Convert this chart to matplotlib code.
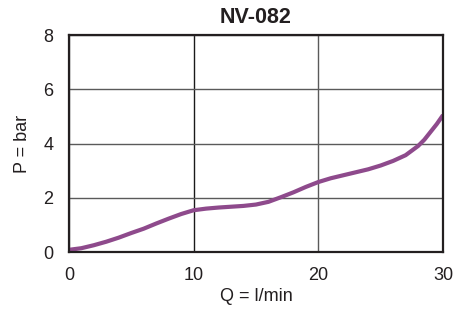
import matplotlib
matplotlib.use("Agg")
import matplotlib.pyplot as plt

plt.rcParams['font.family'] = ['Liberation Sans', 'DejaVu Sans']
plt.rcParams['text.color'] = '#231f20'
plt.rcParams['axes.labelcolor'] = '#231f20'

# Q (l/min) and P (bar)
flow = [0, 1, 2, 3, 4, 5, 6, 7, 8, 9, 10, 11, 12, 13, 14, 15, 16, 17, 18, 19, 20,
        21, 22, 23, 24, 25, 26, 27, 28, 28.5, 29, 29.5, 30]
pressure = [0.08, 0.14, 0.25, 0.38, 0.53, 0.70, 0.86, 1.05, 1.23, 1.40, 1.54, 1.60, 1.64, 1.67,
            1.70, 1.75, 1.85, 2.02, 2.20, 2.40, 2.58, 2.72, 2.83, 2.94, 3.05, 3.19, 3.36, 3.57,
            3.91, 4.14, 4.43, 4.72, 5.05]

x_ticks = [0, 10, 20, 30]
y_ticks = [0, 2, 4, 6, 8]

fig = plt.figure(figsize=(4.53, 3.16), dpi=100)
ax = fig.add_axes([0.152, 0.2025, 0.826, 0.6865])

ax.plot(flow, pressure, color="#8e4a8c", linewidth=3, solid_capstyle="butt", zorder=3)

ax.set_xlim(0, 30)
ax.set_ylim(0, 8)
ax.set_xticks(x_ticks)
ax.set_yticks(y_ticks)
ax.tick_params(length=0, labelsize=13, pad=11, labelcolor="#231f20")
ax.grid(True, color="#5a5a5a", linewidth=1)
ax.get_xgridlines()[1].set_color("#1a1a1a")
for s in ax.spines.values():
    s.set_linewidth(1.6)
    s.set_color("#231f20")
    s.set_zorder(4)

ax.set_title("NV-082", fontsize=15.5, fontweight="bold", pad=9)
ax.set_xlabel("Q = l/min", fontsize=13, labelpad=3)
ax.set_ylabel("P = bar", fontsize=13, labelpad=9)

plt.savefig("out.png", dpi=100)
